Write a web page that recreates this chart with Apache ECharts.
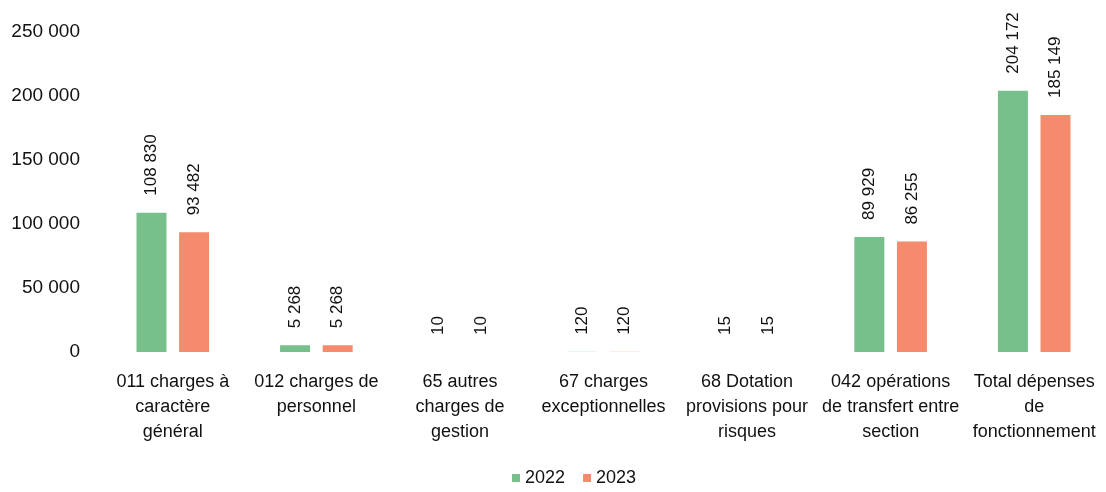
<!DOCTYPE html>
<html>
<head>
<meta charset="utf-8">
<script src="https://cdn.jsdelivr.net/npm/echarts@6/dist/echarts.min.js"></script>
<style>html,body{margin:0;padding:0;background:#fff;}#c{width:1106px;height:492px;}</style>
</head>
<body>
<div id="c"></div>
<script>
var categories = [
  "011 charges à\ncaractère\ngénéral",
  "012 charges de\npersonnel",
  "65 autres\ncharges de\ngestion",
  "67 charges\nexceptionnelles",
  "68 Dotation\nprovisions pour\nrisques",
  "042 opérations\nde transfert entre\nsection",
  "Total dépenses\nde\nfonctionnement"
];
var seriesNames = ["2022", "2023"];
var values2022 = [108830, 5268, 10, 120, 15, 89929, 204172];
var values2023 = [93482, 5268, 10, 120, 15, 86255, 185149];
var yTicks = [0, 50000, 100000, 150000, 200000, 250000];

function fmt(v) {
  return String(v).replace(/\B(?=(\d{3})+(?!\d))/g, ' ');
}

var font = "'Liberation Sans', Arial, sans-serif";
var colors = ['#78c08b', '#f68a6c'];
var txt = '#111';

function mkSeries(name, data, color) {
  return {
    name: name,
    type: 'bar',
    data: data,
    barWidth: 30,
    barGap: '42%',
    itemStyle: { color: color },
    label: {
      show: true,
      position: 'top',
      rotate: 90,
      align: 'left',
      verticalAlign: 'middle',
      distance: 17,
      color: txt,
      fontSize: 17,
      fontFamily: font,
      formatter: function (p) { return fmt(p.value); }
    }
  };
}

var chart = echarts.init(document.getElementById('c'));
chart.setOption({
  animation: false,
  backgroundColor: '#fff',
  color: colors,
  grid: { left: 101, top: 32, width: 1015, height: 320, containLabel: false },
  xAxis: {
    type: 'category',
    data: categories,
    axisLine: { show: false },
    axisTick: { show: false },
    axisLabel: {
      interval: 0,
      margin: 18,
      color: txt,
      fontSize: 18,
      lineHeight: 25,
      fontFamily: font,
      align: 'center'
    }
  },
  yAxis: {
    type: 'value',
    min: yTicks[0],
    max: yTicks[yTicks.length - 1],
    interval: 50000,
    axisLine: { show: false },
    axisTick: { show: false },
    splitLine: { show: false },
    axisLabel: {
      margin: 21,
      color: txt,
      fontSize: 19,
      fontFamily: font,
      formatter: function (v) { return fmt(v); }
    }
  },
  legend: {
    data: seriesNames,
    bottom: 0,
    left: 507,
    icon: 'rect',
    itemWidth: 8,
    itemHeight: 8,
    itemGap: 18,
    textStyle: { color: txt, fontSize: 18, fontFamily: font }
  },
  series: [
    mkSeries(seriesNames[0], values2022, colors[0]),
    mkSeries(seriesNames[1], values2023, colors[1])
  ]
});
</script>
</body>
</html>
